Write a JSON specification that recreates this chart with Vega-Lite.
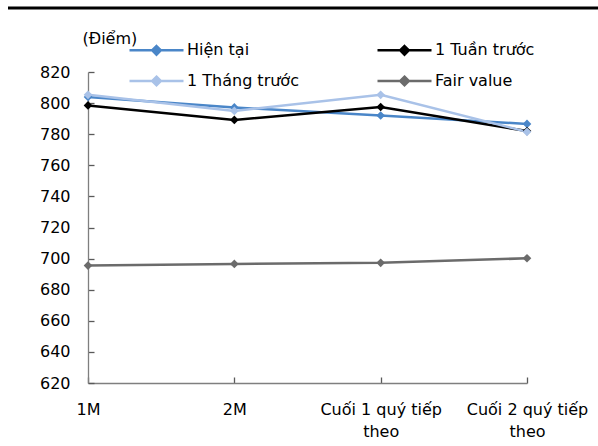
{
  "$schema": "https://vega.github.io/schema/vega-lite/v6.json",
  "width": 439,
  "height": 311,
  "autosize": {"type": "none"},
  "padding": {"left": 88, "top": 72, "right": 71, "bottom": 63},
  "background": "white",
  "config": {
    "view": {"stroke": null},
    "font": "DejaVu Sans",
    "axis": {
      "labelFont": "DejaVu Sans",
      "labelFontSize": 16,
      "labelColor": "#000000",
      "labelOverlap": false,
      "domainColor": "#7f7f7f",
      "tickColor": "#595959",
      "domainWidth": 1.3,
      "tickWidth": 1.3,
      "grid": false,
      "tickSize": -6
    }
  },
  "data": {
    "values": [
      {"ky": "1M", "series": "Hiện tại", "diem": 803.9},
      {"ky": "2M", "series": "Hiện tại", "diem": 797.2},
      {"ky": "Cuối 1 quý tiếp theo", "series": "Hiện tại", "diem": 792.0},
      {"ky": "Cuối 2 quý tiếp theo", "series": "Hiện tại", "diem": 786.6},
      {"ky": "1M", "series": "1 Tuần trước", "diem": 798.5},
      {"ky": "2M", "series": "1 Tuần trước", "diem": 789.2},
      {"ky": "Cuối 1 quý tiếp theo", "series": "1 Tuần trước", "diem": 797.5},
      {"ky": "Cuối 2 quý tiếp theo", "series": "1 Tuần trước", "diem": 782.0},
      {"ky": "1M", "series": "1 Tháng trước", "diem": 805.3},
      {"ky": "2M", "series": "1 Tháng trước", "diem": 795.0},
      {"ky": "Cuối 1 quý tiếp theo", "series": "1 Tháng trước", "diem": 805.3},
      {"ky": "Cuối 2 quý tiếp theo", "series": "1 Tháng trước", "diem": 781.5},
      {"ky": "1M", "series": "Fair value", "diem": 695.5},
      {"ky": "2M", "series": "Fair value", "diem": 696.6},
      {"ky": "Cuối 1 quý tiếp theo", "series": "Fair value", "diem": 697.3},
      {"ky": "Cuối 2 quý tiếp theo", "series": "Fair value", "diem": 700.2}
    ]
  },
  "layer": [
    {
      "mark": {
        "type": "line",
        "strokeWidth": 2.5,
        "point": {"filled": true, "shape": "diamond", "size": 75}
      },
      "encoding": {
        "x": {
          "field": "ky",
          "type": "ordinal",
          "sort": null,
          "scale": {"type": "point", "padding": 0},
          "axis": {
            "title": null,
            "labelAngle": 0,
            "labelPadding": 24,
            "labelLineHeight": 22,
            "labelOverlap": false,
            "labelExpr": "indexof(datum.label, ' theo') > 0 ? [replace(datum.label, ' theo', ''), 'theo'] : datum.label"
          }
        },
        "y": {
          "field": "diem",
          "type": "quantitative",
          "scale": {"domain": [620, 820], "zero": false, "nice": false},
          "axis": {
            "values": [620, 640, 660, 680, 700, 720, 740, 760, 780, 800, 820],
            "tickCount": 11,
            "labelOverlap": false,
            "labelPadding": 24,
            "title": "(Điểm)",
            "titleAngle": 0,
            "titleX": -6,
            "titleY": -34,
            "titleAlign": "left",
            "titleBaseline": "middle",
            "titleFont": "DejaVu Sans",
            "titleFontSize": 16,
            "titleFontWeight": "normal",
            "titleColor": "#000000"
          }
        },
        "color": {
          "field": "series",
          "type": "nominal",
          "sort": null,
          "scale": {
            "domain": ["Hiện tại", "1 Tuần trước", "1 Tháng trước", "Fair value"],
            "range": ["#4a86c8", "#000000", "#a9c2e8", "#6b6b6b"]
          },
          "legend": {
            "orient": "none",
            "legendX": 40,
            "legendY": -37,
            "padding": 0,
            "title": null,
            "columns": 2,
            "direction": "horizontal",
            "symbolType": "M-1,0L3,0M1,-0.32L1.32,0L1,0.32L0.68,0Z",
            "symbolSize": 729,
            "symbolStrokeWidth": 2.5,
            "labelFont": "DejaVu Sans",
            "labelFontSize": 16,
            "labelColor": "#000000",
            "labelOffset": 29,
            "columnPadding": 73,
            "rowPadding": 6,
            "encode": {
              "symbols": {
                "update": {
                  "fill": {"scale": "color", "field": "value"},
                  "stroke": {"scale": "color", "field": "value"},
                  "opacity": {"value": 1}
                }
              }
            }
          }
        }
      }
    },
    {
      "data": {"values": [{}]},
      "mark": {"type": "rule", "color": "#000000", "strokeWidth": 3},
      "encoding": {
        "y": {"value": -64},
        "x": {"value": -80},
        "x2": {"value": 510}
      }
    }
  ]
}
